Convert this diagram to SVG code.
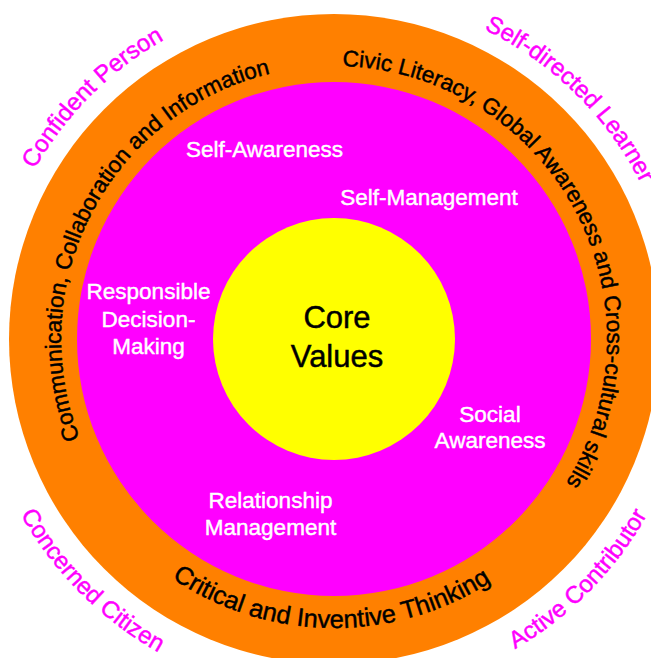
<svg xmlns="http://www.w3.org/2000/svg" xmlns:xlink="http://www.w3.org/1999/xlink" width="651" height="658" viewBox="0 0 651 658">
<style>
.sans{font-family:"Liberation Sans",Arial,Helvetica,sans-serif;stroke-width:0.45px}
.outcome{font-size:24px;fill:#FF00FF;stroke:#FF00FF}
.ring{font-size:22.6px;fill:#000;stroke:#000}
.sel{font-size:22.5px;fill:#fff;stroke:#fff;text-anchor:middle}
.core{font-size:31px;fill:#000;stroke:#000;text-anchor:middle}
</style>
<defs>
<path id="pCivic" d="M102.0,195.1 A273,273 0 1 1 325.4,611.9"/>
<path id="pComm" d="M345.4,611.8 A273,273 0 1 1 564.5,192.7"/>
<path id="pCrit" d="M85.3,191.9 A289,289 0 1 0 585.8,197.1"/>
<path id="pConf" d="M52.2,536.3 A344,344 0 0 1 531.3,57.2"/>
<path id="pSelf" d="M134.2,58.9 A344,344 0 0 1 617.5,533.8"/>
<path id="pConc" d="M39.9,133.1 A359,359 0 0 0 539.9,633.1"/>
<path id="pAct" d="M130.7,634.9 A359,359 0 0 0 626.3,130.5"/>
</defs>
<rect width="651" height="658" fill="#fff"/>
<g id="outcomes" class="sans outcome">
<text id="confident-person"><textPath xlink:href="#pConf" href="#pConf" startOffset="50%" text-anchor="middle">Confident Person</textPath></text>
<text id="self-directed-learner"><textPath xlink:href="#pSelf" href="#pSelf" startOffset="50%" text-anchor="middle">Self-directed Learner</textPath></text>
<text id="concerned-citizen"><textPath xlink:href="#pConc" href="#pConc" startOffset="50%" text-anchor="middle">Concerned Citizen</textPath></text>
<text id="active-contributor"><textPath xlink:href="#pAct" href="#pAct" startOffset="50%" text-anchor="middle">Active Contributor</textPath></text>
</g>
<g id="competencies-ring">
<circle cx="334" cy="339" r="325" fill="#FF8000"/>
<g class="sans ring">
<text id="civic"><textPath xlink:href="#pCivic" href="#pCivic" startOffset="50%" text-anchor="middle">Civic Literacy, Global Awareness and Cross-cultural skills</textPath></text>
<text id="communication"><textPath xlink:href="#pComm" href="#pComm" startOffset="50%" text-anchor="middle">Communication, Collaboration and Information</textPath></text>
<text id="critical" style="font-size:25.4px"><textPath xlink:href="#pCrit" href="#pCrit" startOffset="50%" text-anchor="middle">Critical and Inventive Thinking</textPath></text>
</g>
</g>
<g id="sel-ring">
<circle cx="334" cy="339" r="257" fill="#FF00FF"/>
<g class="sans sel">
<text id="self-awareness" x="264.5" y="157">Self-Awareness</text>
<text id="self-management" x="429" y="205">Self-Management</text>
<text id="responsible" x="148.5" y="299">Responsible</text>
<text id="decision" x="148.5" y="326.5">Decision-</text>
<text id="making" x="148.5" y="353.5">Making</text>
<text id="social" x="490" y="421.5">Social</text>
<text id="awareness" x="490" y="448">Awareness</text>
<text id="relationship" x="270.5" y="507.5">Relationship</text>
<text id="management" x="270.5" y="534.5">Management</text>
</g>
</g>
<g id="core-values">
<circle cx="334" cy="339" r="121" fill="#FFFF00"/>
<text class="sans core" x="337" y="328">Core</text>
<text class="sans core" x="337" y="367">Values</text>
</g>
<g id="connectors"/>
</svg>
